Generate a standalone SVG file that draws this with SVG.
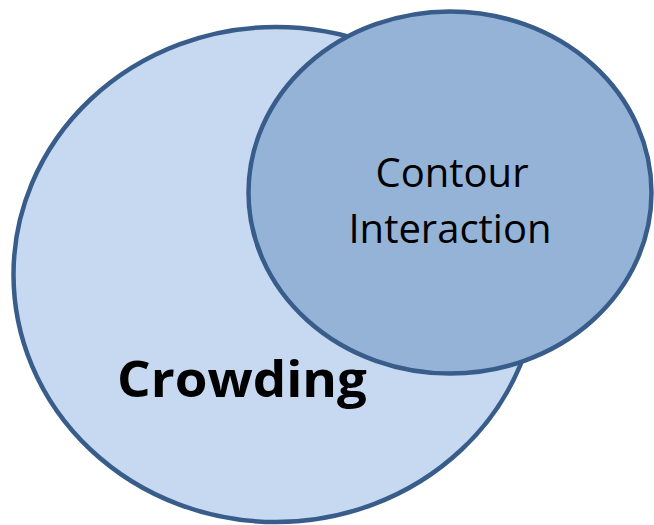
<svg xmlns="http://www.w3.org/2000/svg" width="654" height="525" viewBox="0 0 654 525">
  <style>
    .set { stroke: #385D8A; stroke-width: 4.5; }
    .outer { fill: #C6D9F1; }
    .inner { fill: #95B3D7; }
    .label { font-family: "Open Sans", "Liberation Sans", sans-serif; fill: #000000; text-anchor: middle; }
    .small { font-size: 40px; }
    .big { font-size: 50px; font-weight: bold; text-anchor: start; }
  </style>
  <rect width="654" height="525" fill="#FFFFFF"/>
  <g id="crowding">
    <ellipse class="set outer" cx="276" cy="274.5" rx="262.5" ry="247.5"/>
    <text class="label big" x="117" y="397" textLength="250" lengthAdjust="spacingAndGlyphs">Crowding</text>
  </g>
  <g id="contour-interaction">
    <ellipse class="set inner" cx="450" cy="192.5" rx="201.5" ry="181"/>
    <text class="label small" x="452" y="187">Contour</text>
    <text class="label small" x="450" y="243">Interaction</text>
  </g>
  <g id="connectors"/>
</svg>
